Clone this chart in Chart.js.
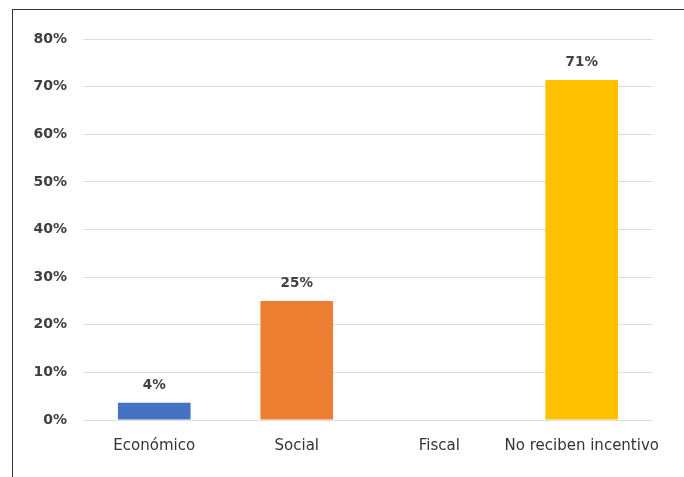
<!DOCTYPE html>
<html>
<head>
<meta charset="utf-8">
<script src="https://cdn.jsdelivr.net/npm/chart.js@4"></script>
<style>
  html, body { margin: 0; padding: 0; background: #fff; }
  #wrap { position: relative; width: 684px; height: 477px; }
  #frame { position: absolute; left: 12px; top: 9px; right: 0; bottom: 0;
           border-top: 1.5px solid #333; border-left: 1.5px solid #333; }
  canvas { position: absolute; left: 0; top: 0; }
</style>
</head>
<body>
<div id="wrap">
  <div id="frame"></div>
  <canvas id="chart" width="684" height="477"></canvas>
</div>
<script>
// data
let categories = ["Económico", "Social", "Fiscal", "No reciben incentivo"];
let values = [3.6, 25, 0, 71.4];
let valueLabels = ["4%", "25%", "", "71%"];
let barColors = ["#4472c4", "#ed7d31", "#a5a5a5", "#ffc000"];

/* labels over bars */
let barLabels = {
    id: "barLabels",
    afterDatasetsDraw(chart) {
        let ctx = chart.ctx;
        let meta = chart.getDatasetMeta(0);
        ctx.save();
        ctx.font = "bold 13.5px 'DejaVu Sans', sans-serif";
        ctx.fillStyle = "#404040";
        ctx.textAlign = "center";
        ctx.textBaseline = "alphabetic";
        meta.data.forEach((bar, i) => {
            if (!valueLabels[i]) return;
            ctx.fillText(valueLabels[i], bar.x, bar.y - 14);
        });
        ctx.restore();
    }
};

new Chart(document.getElementById("chart"), {
    type: "bar",
    data: {
        labels: categories,
        datasets: [{
            data: values,
            backgroundColor: barColors,
            borderWidth: 0,
            barPercentage: 1,
            categoryPercentage: 0.51
        }]
    },
    options: {
        responsive: false,
        animation: false,
        layout: { padding: { top: 39, right: 31, left: 0, bottom: 0 } },
        plugins: {
            legend: { display: false },
            tooltip: { enabled: false }
        },
        scales: {
            x: {
                grid: { display: false, drawTicks: false },
                border: { display: false },
                ticks: {
                    color: "#333",
                    font: { family: "'DejaVu Sans', sans-serif", size: 15 },
                    padding: 17,
                    maxRotation: 0,
                    autoSkip: false
                },
                afterFit: s => { s.height = 57; }
            },
            y: {
                min: 0,
                max: 80,
                grid: { color: "#dcdcdc", drawTicks: false },
                border: { display: false },
                ticks: {
                    stepSize: 10,
                    color: "#404040",
                    font: { family: "'DejaVu Sans', sans-serif", size: 14, weight: "bold" },
                    padding: 16,
                    callback: v => v + "%"
                },
                afterFit: s => { s.width = 83; }
            }
        }
    },
    plugins: [barLabels]
});
</script>
</body>
</html>
